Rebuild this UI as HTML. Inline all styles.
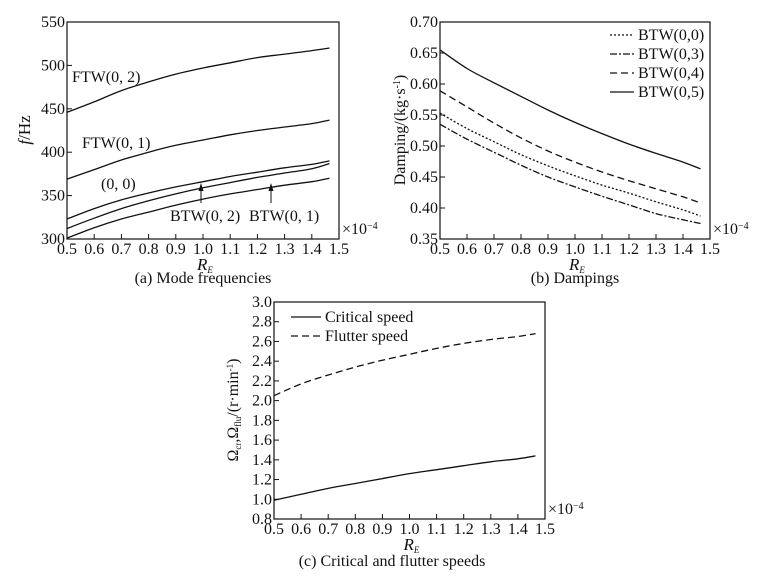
<!DOCTYPE html>
<html><head><meta charset="utf-8"><style>
html,body{margin:0;padding:0;background:#fff;}
svg, svg text{font-family:"Liberation Serif","DejaVu Serif",serif;}
</style></head><body>
<svg id="fig" width="771" height="578" viewBox="0 0 771 578" xmlns="http://www.w3.org/2000/svg" font-family="Liberation Serif, serif"></svg>
<script>
const xVals=[0.5,0.6,0.7,0.8,0.9,1.0,1.1,1.2,1.3,1.4,1.465];
const xTicks=[0.5,0.6,0.7,0.8,0.9,1.0,1.1,1.2,1.3,1.4,1.5];
const aTicks=[300,350,400,450,500,550];
const ftw02=[446,458,471,481,490,497,503,509,513,517,520];
const ftw01=[369,380,391,400,408,414,420,425,429,433,437];
const mode00=[323,335,345,353,360,366,372,377,382,386,390];
const btw02=[312,324,335,344,352,359,365,371,376,381,387];
const btw01=[301,313,323,331,339,346,352,357,362,366,370];
const bTicks=[0.35,0.40,0.45,0.50,0.55,0.60,0.65,0.70];
const d05=[0.655,0.625,0.602,0.580,0.558,0.538,0.520,0.503,0.488,0.474,0.463];
const d04=[0.589,0.563,0.537,0.513,0.492,0.474,0.458,0.444,0.431,0.418,0.408];
const d00=[0.553,0.528,0.507,0.486,0.468,0.452,0.437,0.424,0.410,0.397,0.387];
const d03=[0.535,0.511,0.490,0.469,0.450,0.434,0.419,0.405,0.391,0.381,0.375];
const cTicks=[0.8,1.0,1.2,1.4,1.6,1.8,2.0,2.2,2.4,2.6,2.8,3.0];
const flutter=[2.05,2.17,2.26,2.34,2.41,2.47,2.53,2.58,2.62,2.65,2.68];
const critical=[0.99,1.05,1.11,1.16,1.21,1.26,1.30,1.34,1.38,1.41,1.44];

const svg=document.getElementById('fig');
const NS='http://www.w3.org/2000/svg';
const FF='Liberation Serif, serif';
function mk(tag,attrs,parent){const e=document.createElementNS(NS,tag);for(const k in attrs)e.setAttribute(k,attrs[k]);(parent||svg).appendChild(e);return e;}
function txt(s,x,y,attrs,parent){const t=mk('text',Object.assign({x:x,y:y,'font-size':16,fill:'#111','font-family':FF},attrs||{}),parent);t.textContent=s;return t;}

function chart(name,box,ymin,ymax,yt,ydec){
  const g=mk('g',{});
  
  
  const sx=v=>box.l+(v-0.5)/(1.0)*(box.r-box.l);
  const sy=v=>box.b-(v-ymin)/(ymax-ymin)*(box.b-box.t);
  const fr=mk('rect',{x:box.l,y:box.t,width:box.r-box.l,height:box.b-box.t,fill:'none',stroke:'#111','stroke-width':1.2},g);
  
  
  xTicks.forEach(v=>{
    mk('line',{x1:sx(v),x2:sx(v),y1:box.b,y2:box.b-5,stroke:'#111'},g);
    const t=txt(v.toFixed(1),sx(v),box.b+15,{'text-anchor':'middle'},g);
    
    
  });
  yt.forEach(v=>{
    mk('line',{x1:box.l,x2:box.l+5,y1:sy(v),y2:sy(v),stroke:'#111'},g);
    const t=txt(v.toFixed(ydec),box.l-2,sy(v)+5,{'text-anchor':'end'},g);
    
    
  });
  const e=txt('×10',box.r+3,box.b-5,{},g);
  
  
  const sup=mk('tspan',{dy:-5,'font-size':10},e);sup.textContent='−4';
  const xl=txt('R',(box.l+box.r)/2-6,box.b+31,{'font-style':'italic','font-size':17},g);
  
  
  const sb=mk('tspan',{dy:3,'font-size':9},xl);sb.textContent='E';
  return {g,sx,sy};
}
function series(c,name,ys,dash){
  const P=xVals.map((x,i)=>[c.sx(x),c.sy(ys[i])]);
  let d='M'+P[0][0].toFixed(1)+','+P[0][1].toFixed(1);
  for(let i=0;i<P.length-1;i++){
    const p0=P[Math.max(0,i-1)],p1=P[i],p2=P[i+1],p3=P[Math.min(P.length-1,i+2)];
    const c1=[p1[0]+(p2[0]-p0[0])/6,p1[1]+(p2[1]-p0[1])/6];
    const c2=[p2[0]-(p3[0]-p1[0])/6,p2[1]-(p3[1]-p1[1])/6];
    d+=' C'+c1.map(v=>v.toFixed(1)).join(',')+' '+c2.map(v=>v.toFixed(1)).join(',')+' '+p2.map(v=>v.toFixed(1)).join(',');
  }
  const p=mk('path',{d:d,fill:'none',stroke:'#111','stroke-width':1.3,'stroke-dasharray':dash||'none'},c.g);
  
  
}

// Chart A
const A=chart('chart-mode-frequencies',{l:67,r:339,t:22,b:239},300,550,aTicks,0);
series(A,'line-ftw02',ftw02);series(A,'line-ftw01',ftw01);series(A,'line-mode00',mode00);series(A,'line-btw02',btw02);series(A,'line-btw01',btw01);
[['FTW(0, 2)',72,82],['FTW(0, 1)',82,148],['(0, 0)',101,189],['BTW(0, 2)',170,221],['BTW(0, 1)',249,221]].forEach(a=>{
  const t=txt(a[0],a[1],a[2],{},A.g);
  
  
});
mk('line',{x1:201,y1:203,x2:201,y2:188,stroke:'#111'},A.g);mk('path',{d:'M198.5,191 L201,183 L203.5,191 Z',fill:'#111'},A.g);
mk('line',{x1:271,y1:203,x2:271,y2:188,stroke:'#111'},A.g);mk('path',{d:'M268.5,191 L271,183 L273.5,191 Z',fill:'#111'},A.g);
const ya=txt('',0,0,{transform:'translate(30,130) rotate(-90)','text-anchor':'middle','font-size':17},A.g);

const yf=mk('tspan',{'font-style':'italic'},ya);yf.textContent='f';const yh=mk('tspan',{},ya);yh.textContent='/Hz';
const ca=txt('(a) Mode frequencies',203,283,{'text-anchor':'middle'},A.g);


// Chart B
const B=chart('chart-dampings',{l:440,r:710,t:22,b:239},0.35,0.70,bTicks,2);
series(B,'line-btw05',d05);series(B,'line-btw04',d04,'7,4');series(B,'line-btw00',d00,'2,2');series(B,'line-btw03',d03,'7,2,2,2');
[['BTW(0,0)','2,2'],['BTW(0,3)','7,2,2,2'],['BTW(0,4)','7,4'],['BTW(0,5)','none']].forEach((l,i)=>{
  const y=35+i*19;
  const lg=mk('g',{},B.g);
  
  
  mk('line',{x1:610,x2:634,y1:y,y2:y,stroke:'#111','stroke-width':1.2,'stroke-dasharray':l[1]},lg);
  txt(l[0],638,y+5,{},lg);
});
const yb=txt('Damping/(kg·s',0,0,{transform:'translate(405,130) rotate(-90)','text-anchor':'middle','font-size':16},B.g);

const s1=mk('tspan',{dy:-5,'font-size':10},yb);s1.textContent='-1';const s2=mk('tspan',{dy:5},yb);s2.textContent=')';
const cb=txt('(b) Dampings',575,283,{'text-anchor':'middle'},B.g);


// Chart C
const C=chart('chart-speeds',{l:274,r:545,t:302,b:519},0.8,3.0,cTicks,1);
series(C,'line-critical-speed',critical);series(C,'line-flutter-speed',flutter,'7,4');
[['Critical speed','none',317],['Flutter speed','7,4',336]].forEach(l=>{
  const lg=mk('g',{},C.g);
  
  
  mk('line',{x1:291,x2:321,y1:l[2],y2:l[2],stroke:'#111','stroke-width':1.2,'stroke-dasharray':l[1]},lg);
  txt(l[0],325,l[2]+5,{},lg);
});
const yc=txt('Ω',0,0,{transform:'translate(238,410) rotate(-90)','text-anchor':'middle','font-size':16},C.g);

[['cr',3,9],[',Ω',-3,16],['flu',3,9],['/(r·min',-3,16],['-1',-5,9],[')',5,16]].forEach(p=>{const t=mk('tspan',{dy:p[1],'font-size':p[2]},yc);t.textContent=p[0];});
const cc=txt('(c) Critical and flutter speeds',392,566,{'text-anchor':'middle'},C.g);

</script>
</body></html>
